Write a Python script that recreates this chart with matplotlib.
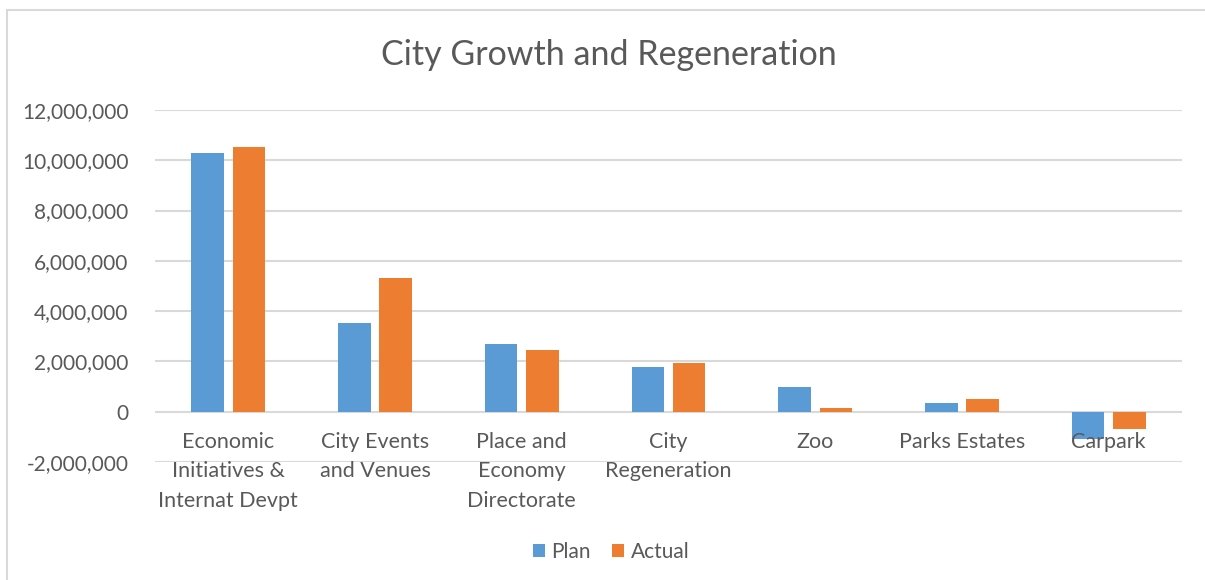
import matplotlib
matplotlib.use("Agg")
import matplotlib.pyplot as plt
import matplotlib.transforms as mtransforms
from matplotlib.patches import Rectangle
from matplotlib.ticker import FuncFormatter
import numpy as np

categories = ["Economic\nInitiatives &\nInternat Devpt", "City Events\nand Venues",
              "Place and\nEconomy\nDirectorate", "City\nRegeneration", "Zoo",
              "Parks Estates", "Carpark"]
plan = [10290000, 3540000, 2680000, 1760000, 980000, 360000, -1080000]
actual = [10540000, 5310000, 2450000, 1930000, 150000, 500000, -690000]

BLUE = "#5B9BD5"
ORANGE = "#ED7D31"
TEXT = "#595959"
GRID = "#D9D9D9"

plt.rcParams['font.family'] = ['Lato', 'DejaVu Sans']

fig = plt.figure(figsize=(12.05, 5.8), dpi=100)
W, H = 1205, 580
ax = fig.add_axes([155 / W, 1 - 462 / H, (1182 - 155) / W, (462 - 110) / H])

# outer chart border (right and bottom edges fall outside the picture)
fig.patches.append(Rectangle((7 / W, -0.05), 1.1, 1.05 - 10 / H,
                             transform=fig.transFigure, fill=False,
                             edgecolor=GRID, linewidth=1.5))

x = np.arange(len(categories))
ax.bar(x - 0.141, plan, width=0.222, color=BLUE, label="Plan", zorder=3)
ax.bar(x + 0.141, actual, width=0.222, color=ORANGE, label="Actual", zorder=3)

ax.set_xlim(-0.5, len(categories) - 0.5)
ax.set_ylim(-2000000, 12000000)
ax.set_yticks(np.arange(-2000000, 12000001, 2000000))
ax.yaxis.set_major_formatter(FuncFormatter(lambda v, p: f"{int(v):,}"))
ax.tick_params(axis='y', length=0, labelsize=15, labelcolor=TEXT, pad=19)
ax.set_xticks([])
ax.grid(axis='y', color=GRID, linewidth=1.5, zorder=0)
for s in ax.spines.values():
    s.set_visible(False)

# category labels hang just under the zero line
lbl_tf = mtransforms.offset_copy(ax.transData, fig=fig, x=0, y=-20, units='dots')
for xi, name in zip(x, categories):
    ax.text(xi, 0, name, transform=lbl_tf, ha='center', va='top',
            fontsize=15.5, color=TEXT, linespacing=1.6)

fig.text(609 / W, 1 - 55 / H, "City Growth and Regeneration", ha='center',
         va='center', fontsize=24.5, color=TEXT)

leg = fig.legend(loc='center', bbox_to_anchor=(611 / W, 1 - 552 / H), ncol=2,
                 frameon=False, fontsize=15, handlelength=0.6,
                 handleheight=0.6, handletextpad=0.3, columnspacing=1.0)
for t in leg.get_texts():
    t.set_color(TEXT)

fig.savefig("out.png", dpi=100)
